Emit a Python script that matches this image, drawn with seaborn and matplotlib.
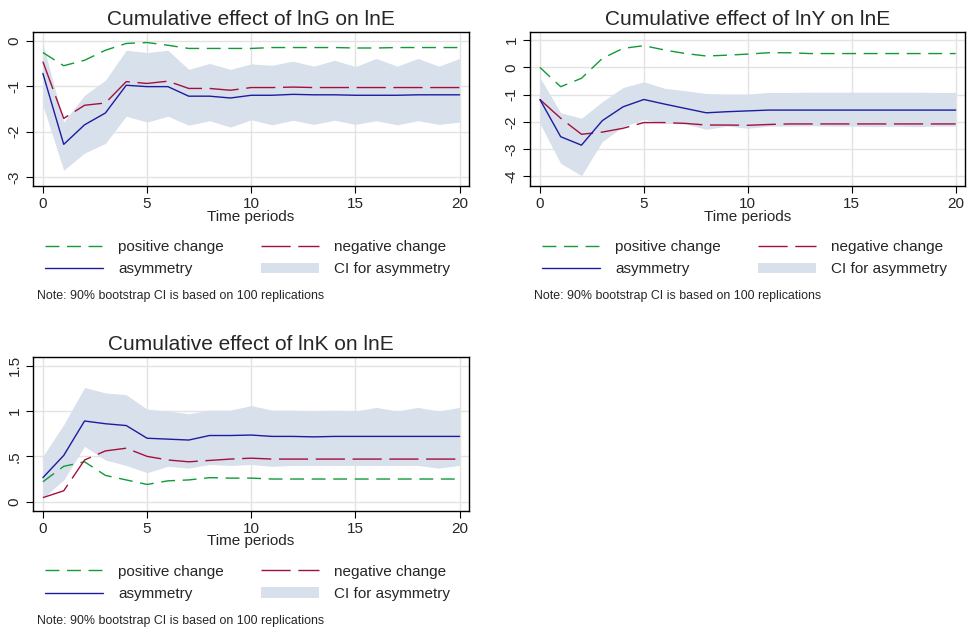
import matplotlib
matplotlib.use("Agg")
import matplotlib.pyplot as plt
import seaborn as sns
from matplotlib.lines import Line2D
from matplotlib.patches import Patch

# data (periods 0..20)
periods = list(range(21))

pos_g = [-0.26, -0.55, -0.43, -0.21, -0.06, -0.04, -0.10, -0.17, -0.17, -0.17, -0.17,
         -0.15, -0.15, -0.15, -0.15, -0.16, -0.16, -0.15, -0.15, -0.15, -0.15]
neg_g = [-0.46, -1.71, -1.42, -1.37, -0.90, -0.94, -0.89, -1.05, -1.05, -1.09, -1.03,
         -1.03, -1.02, -1.03, -1.03, -1.03, -1.03, -1.03, -1.03, -1.03, -1.03]
asy_g = [-0.72, -2.28, -1.85, -1.59, -0.98, -1.01, -1.01, -1.22, -1.22, -1.26, -1.20,
         -1.20, -1.18, -1.19, -1.19, -1.20, -1.20, -1.20, -1.19, -1.19, -1.19]
hi_g = [-0.06, -1.79, -1.20, -0.87, -0.21, -0.26, -0.21, -0.63, -0.50, -0.63, -0.51,
        -0.54, -0.45, -0.56, -0.43, -0.57, -0.39, -0.56, -0.39, -0.56, -0.39]
lo_g = [-1.42, -2.85, -2.47, -2.26, -1.66, -1.79, -1.66, -1.86, -1.76, -1.90, -1.74,
        -1.85, -1.75, -1.84, -1.75, -1.84, -1.76, -1.85, -1.76, -1.84, -1.79]

pos_y = [0.00, -0.71, -0.40, 0.33, 0.70, 0.80, 0.64, 0.51, 0.42, 0.45, 0.49,
         0.54, 0.54, 0.51, 0.51, 0.51, 0.51, 0.51, 0.51, 0.51, 0.51]
neg_y = [-1.18, -1.87, -2.46, -2.38, -2.24, -2.03, -2.03, -2.06, -2.12, -2.12, -2.13,
         -2.10, -2.08, -2.08, -2.08, -2.08, -2.08, -2.08, -2.08, -2.08, -2.08]
asy_y = [-1.18, -2.55, -2.86, -1.96, -1.45, -1.18, -1.35, -1.51, -1.67, -1.63, -1.60,
         -1.57, -1.57, -1.57, -1.57, -1.57, -1.57, -1.57, -1.57, -1.57, -1.57]
hi_y = [-0.37, -1.67, -1.87, -1.26, -0.74, -0.53, -0.77, -0.86, -0.96, -0.98, -0.98,
        -0.92, -0.92, -0.91, -0.91, -0.91, -0.91, -0.91, -0.91, -0.92, -0.92]
lo_y = [-2.06, -3.53, -3.98, -2.73, -2.18, -1.91, -2.06, -2.08, -2.28, -2.16, -2.24,
        -2.16, -2.16, -2.15, -2.16, -2.16, -2.18, -2.16, -2.18, -2.16, -2.16]

pos_k = [0.22, 0.39, 0.44, 0.29, 0.24, 0.19, 0.23, 0.24, 0.265, 0.26, 0.26,
         0.25, 0.25, 0.25, 0.25, 0.25, 0.25, 0.25, 0.25, 0.25, 0.25]
neg_k = [0.045, 0.12, 0.46, 0.56, 0.59, 0.50, 0.46, 0.44, 0.455, 0.47, 0.48,
         0.47, 0.47, 0.47, 0.47, 0.47, 0.47, 0.47, 0.47, 0.47, 0.47]
asy_k = [0.265, 0.51, 0.89, 0.86, 0.84, 0.70, 0.69, 0.68, 0.73, 0.73, 0.735,
         0.72, 0.72, 0.715, 0.72, 0.72, 0.72, 0.72, 0.72, 0.72, 0.72]
hi_k = [0.50, 0.85, 1.26, 1.20, 1.18, 1.02, 1.00, 0.97, 1.01, 1.01, 1.06,
        1.01, 1.01, 1.00, 1.01, 1.00, 1.04, 1.00, 1.04, 1.00, 1.04]
lo_k = [0.04, 0.24, 0.61, 0.46, 0.40, 0.32, 0.39, 0.37, 0.41, 0.40, 0.41,
        0.39, 0.40, 0.40, 0.40, 0.40, 0.40, 0.40, 0.40, 0.37, 0.40]

titles = ["Cumulative effect of lnG on lnE", "Cumulative effect of lnY on lnE",
          "Cumulative effect of lnK on lnE"]
yticks_list = [[0, -1, -2, -3], [1, 0, -1, -2, -3, -4], [0, 0.5, 1, 1.5]]
ylabels_list = [["0", "-1", "-2", "-3"], ["1", "0", "-1", "-2", "-3", "-4"],
                ["0", ".5", "1", "1.5"]]
ylims = [(-3.2, 0.19), (-4.37, 1.3), (-0.1, 1.6)]

green = "#119a3a"
red = "#a3103e"
blue = "#1c1ca0"
ci_col = "#d8e0ec"
green_ls = (0, (10, 5.5))
red_ls = (0, (21, 5.5))

sns.set_style("white")
plt.rcParams["font.family"] = ["Liberation Sans", "DejaVu Sans"]

fig = plt.figure(figsize=(9.67, 6.29), dpi=100)
rects = [[0.034, 0.704, 0.451, 0.245],
         [0.548, 0.704, 0.450, 0.245],
         [0.034, 0.188, 0.451, 0.245]]
panels = [(pos_g, neg_g, asy_g, lo_g, hi_g),
          (pos_y, neg_y, asy_y, lo_y, hi_y),
          (pos_k, neg_k, asy_k, lo_k, hi_k)]

for i, (pos, neg, asy, lo, hi) in enumerate(panels):
    ax = fig.add_axes(rects[i])
    ax.fill_between(periods, lo, hi, color=ci_col, lw=0, zorder=1)
    sns.lineplot(x=periods, y=pos, ax=ax, color=green, lw=1.0, linestyle=green_ls, zorder=3)
    sns.lineplot(x=periods, y=neg, ax=ax, color=red, lw=1.0, linestyle=red_ls, zorder=3)
    sns.lineplot(x=periods, y=asy, ax=ax, color=blue, lw=1.0, zorder=3)

    ax.set_xlim(-0.48, 20.45)
    ax.set_ylim(*ylims[i])
    ax.set_xticks([0, 5, 10, 15, 20])
    ax.set_yticks(yticks_list[i])
    ax.set_yticklabels(ylabels_list[i], rotation=90, va="center")
    ax.grid(True, color="#e3e3e3", lw=1.0, zorder=0)
    ax.set_axisbelow(True)
    for s in ax.spines.values():
        s.set_color("black")
        s.set_linewidth(1.0)
    ax.tick_params(axis="both", length=5, width=0.8, color="black", labelsize=11,
                   left=True, bottom=True, pad=3)
    ax.set_xlabel("Time periods", fontsize=11, labelpad=-1)
    ax.set_ylabel("")
    ax.set_title(titles[i], fontsize=15, pad=5)

    handles = [Line2D([], [], color=green, lw=1.0, linestyle=green_ls),
               Line2D([], [], color=blue, lw=1.0),
               Line2D([], [], color=red, lw=1.0, linestyle=red_ls),
               Patch(facecolor=ci_col, edgecolor="none")]
    labels = ["positive change", "asymmetry", "negative change", "CI for asymmetry"]
    ax.legend(handles, labels, loc="upper left", bbox_to_anchor=(0.014, -0.31),
              ncol=2, frameon=False, fontsize=11, handlelength=3.8,
              handletextpad=1.0, columnspacing=2.4, labelspacing=0.55,
              borderaxespad=0)

    bb = rects[i]
    fig.text(bb[0] + 0.004, bb[1] - 0.175, "Note: 90% bootstrap CI is based on 100 replications",
             fontsize=8.9, va="center", ha="left")

plt.savefig("out.png", dpi=100)
